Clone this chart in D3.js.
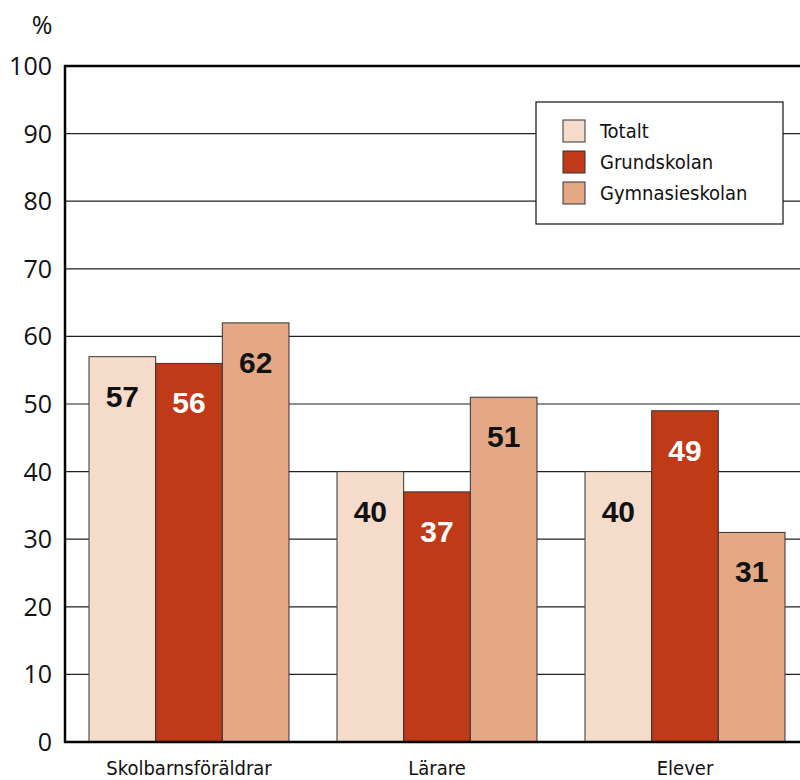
<!DOCTYPE html>
<html>
<head>
<meta charset="utf-8">
<script src="https://cdn.jsdelivr.net/npm/d3@7"></script>
<style>
  body { margin: 0; background: #fff; }
  svg { display: block; }
  .tick-label { font-family: "Open Sans", "DejaVu Sans", sans-serif; font-size: 25px; fill: #111; }
  .cat-label, .legend-label { font-family: "Liberation Sans Narrow", "DejaVu Sans Condensed", "Roboto", sans-serif; fill: #111; }
  .val-label { font-family: "Liberation Sans", Arial, sans-serif; font-weight: bold; font-size: 30px; }
</style>
</head>
<body>
<svg width="800" height="780"></svg>
<script>
const width = 800;
const height = 780;

const categories = ["Skolbarnsföräldrar", "Lärare", "Elever"];
const seriesNames = ["Totalt", "Grundskolan", "Gymnasieskolan"];
const totalt = [57, 40, 40];
const grundskolan = [56, 37, 49];
const gymnasieskolan = [62, 51, 31];
const yTicks = [0, 10, 20, 30, 40, 50, 60, 70, 80, 90, 100];

const colors = ["#f4dbca", "#c13a18", "#e4a884"];
const labelColors = ["#111", "#fff", "#111"];

const rows = categories.map((c, i) => ({
  cat: c,
  vals: [totalt[i], grundskolan[i], gymnasieskolan[i]]
}));

const svg = d3.select("svg");

const x0 = d3.scaleBand()
  .domain(categories)
  .range([65, 809]);

const x1 = d3.scaleBand()
  .domain(seriesNames)
  .range([24, 224]);

const y = d3.scaleLinear()
  .domain([0, 100])
  .range([742, 66]);

// gridlines
svg.append("g")
  .selectAll("line")
  .data(yTicks.filter(t => t > 0 && t < 100))
  .join("line")
    .attr("x1", 65)
    .attr("x2", width)
    .attr("y1", d => y(d))
    .attr("y2", d => y(d))
    .attr("stroke", "#222")
    .attr("stroke-width", 1.2);

// tick labels
svg.append("g")
  .selectAll("text")
  .data(yTicks)
  .join("text")
    .classed("tick-label", true)
    .attr("x", 52)
    .attr("y", d => y(d))
    .attr("dy", "0.36em")
    .attr("text-anchor", "end")
    .text(d => d);

svg.append("text")
  .classed("tick-label", true)
  .attr("x", 42)
  .attr("y", 34)
  .attr("text-anchor", "middle")
  .text("%");

// bars
const groups = svg.append("g")
  .selectAll("g")
  .data(rows)
  .join("g")
    .attr("transform", d => `translate(${x0(d.cat)},0)`);

groups.selectAll("rect")
  .data(d => d.vals.map((v, i) => ({ key: seriesNames[i], value: v, i: i })))
  .join("rect")
    .attr("x", d => x1(d.key))
    .attr("y", d => y(d.value))
    .attr("width", x1.bandwidth())
    .attr("height", d => y(0) - y(d.value))
    .attr("fill", d => colors[d.i])
    .attr("stroke", "#333")
    .attr("stroke-width", 1);

groups.selectAll(".val-label")
  .data(d => d.vals.map((v, i) => ({ key: seriesNames[i], value: v, i: i })))
  .join("text")
    .classed("val-label", true)
    .attr("x", d => x1(d.key) + x1.bandwidth() / 2)
    .attr("y", d => y(d.value) + 50)
    .attr("text-anchor", "middle")
    .attr("fill", d => labelColors[d.i])
    .text(d => d.value);

// category labels
svg.append("g")
  .selectAll("text")
  .data(categories)
  .join("text")
    .classed("cat-label", true)
    .attr("x", d => x0(d) + x0.bandwidth() / 2)
    .attr("y", 775)
    .attr("text-anchor", "middle")
    .attr("font-size", 20)
    .text(d => d);

// axes and frame
svg.append("line")
  .attr("x1", 65).attr("x2", 65)
  .attr("y1", 65).attr("y2", 743)
  .attr("stroke", "#000").attr("stroke-width", 2.5);
svg.append("line")
  .attr("x1", 64).attr("x2", width)
  .attr("y1", 742).attr("y2", 742)
  .attr("stroke", "#000").attr("stroke-width", 2.5);
svg.append("line")
  .attr("x1", 64).attr("x2", width)
  .attr("y1", 66).attr("y2", 66)
  .attr("stroke", "#000").attr("stroke-width", 2.5);

// legend
const legend = svg.append("g").attr("transform", "translate(536,102)");
legend.append("rect")
  .attr("width", 247)
  .attr("height", 122)
  .attr("fill", "#fff")
  .attr("stroke", "#111")
  .attr("stroke-width", 1.2);

const items = legend.selectAll("g")
  .data(seriesNames)
  .join("g")
    .attr("transform", (d, i) => `translate(27,${18 + i * 31})`);

items.append("rect")
  .attr("width", 22)
  .attr("height", 22)
  .attr("fill", (d, i) => colors[i])
  .attr("stroke", "#333")
  .attr("stroke-width", 1);

items.append("text")
  .classed("legend-label", true)
  .attr("x", 37)
  .attr("y", 11)
  .attr("dy", "0.36em")
  .attr("font-size", 20)
  .text(d => d);
</script>
</body>
</html>
